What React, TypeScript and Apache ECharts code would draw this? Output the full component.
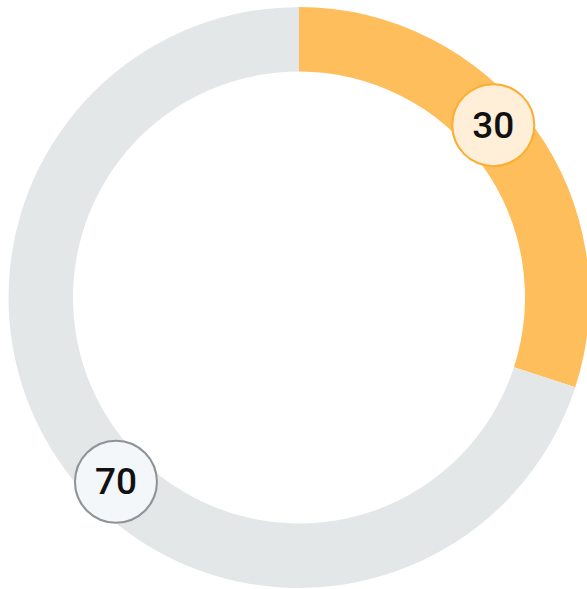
import React, { useEffect, useRef } from "react";
import * as echarts from "echarts";

const categories = ["A", "B"];
const values = [30, 70];
const ringColors = ["#FFBE5C", "#E4E7E8"];
const labelFills = ["#FFEFD8", "#F3F7FA"];
const labelBorders = ["#FBAE32", "#8E9396"];

const W = 587;
const H = 589;
const CX = 299;
const CY = 297.5;
const R_IN = 226;
const R_OUT = 290.5;

export default function App() {
  const ref = useRef<HTMLDivElement>(null);
  useEffect(() => {
    document.body.style.margin = "0";
    document.body.style.overflow = "hidden";
    if (!ref.current) return;
    const chart = echarts.init(ref.current, null, { renderer: "svg" });
    const total = values.reduce((a, b) => a + b, 0);
    const starts: number[] = [];
    let cum = 0;
    values.forEach((v) => {
      starts.push(cum);
      cum += v;
    });
    const rMid = 259.7;
    chart.setOption({
      animation: false,
      series: [
        {
          type: "pie",
          center: [CX, CY],
          radius: [R_IN, R_OUT],
          startAngle: 90,
          clockwise: true,
          silent: true,
          itemStyle: { borderWidth: 0 },
          data: categories.map((c, i) => ({
            name: c,
            value: values[i],
            itemStyle: { color: ringColors[i] },
            label: {
              backgroundColor: labelFills[i],
              borderColor: labelBorders[i],
            },
          })),
          label: {
            show: true,
            position: "inside",
            formatter: "{c}",
            fontFamily: "Roboto",
            fontWeight: 500,
            fontSize: 37,
            color: "#111111",
            width: 80,
            height: 80,
            lineHeight: 80,
            align: "center",
            verticalAlign: "middle",
            borderWidth: 2,
            borderRadius: 41,
            padding: 0,
          },
          labelLine: { show: false },
          labelLayout: (params: any) => {
            const i = params.dataIndex;
            const midDeg = ((starts[i] + values[i] / 2) / total) * 360;
            const deg = midDeg * 0.98 - 4.5;
            const a = (deg * Math.PI) / 180;
            return {
              x: CX + rMid * Math.sin(a),
              y: CY - rMid * Math.cos(a),
            };
          },
        },
      ],
    });
    return () => chart.dispose();
  }, []);
  return <div ref={ref} style={{ width: W, height: H }} />;
}
